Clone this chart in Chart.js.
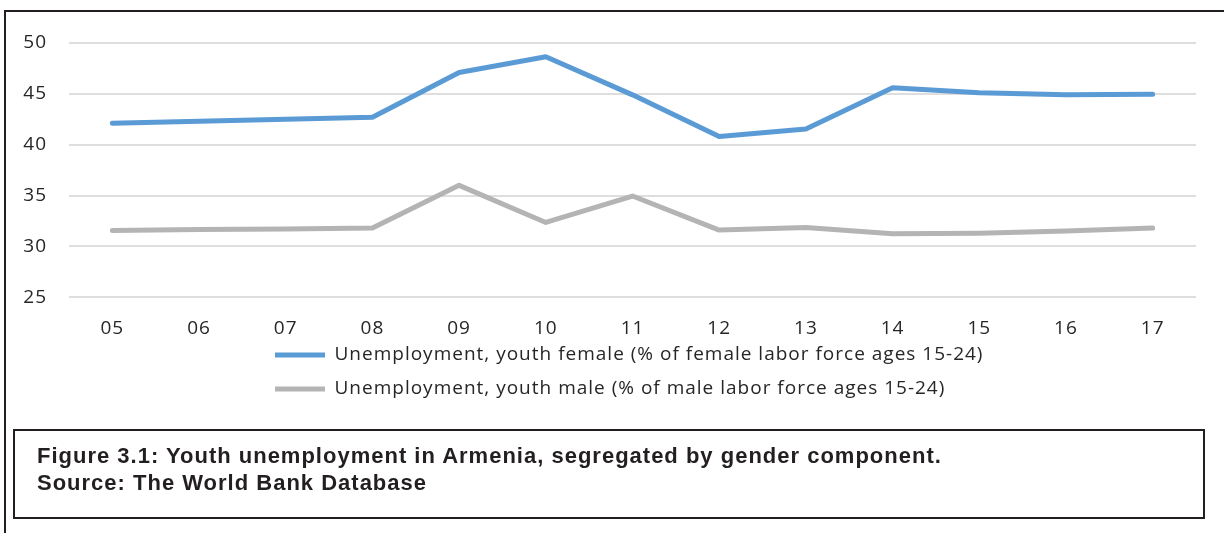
<!DOCTYPE html>
<html>
<head>
<meta charset="utf-8">
<script src="https://cdn.jsdelivr.net/npm/chart.js@4.4.1/dist/chart.umd.min.js"></script>
<style>
  body { margin: 0; background: #fff; width: 1224px; height: 533px; overflow: hidden; position: relative; }
  #frame { position: absolute; left: 4px; top: 10px; width: 1240px; height: 540px; border-left: 2px solid #231f20; border-top: 2px solid #231f20; }
  #wrap { position: absolute; left: 0; top: 0; width: 1224px; height: 441px; }
  #caption {
    position: absolute; left: 13px; top: 429px; width: 1188px; height: 86px;
    border: 2px solid #231f20; box-sizing: content-box;
    font-family: "Liberation Sans", Arial, sans-serif; font-weight: bold; font-size: 22px;
    letter-spacing: 1px; line-height: 27px; color: #231f20;
  }
  #caption div { position: absolute; left: 22px; white-space: nowrap; }
</style>
</head>
<body>
<div id="frame"></div>
<div id="wrap"><canvas id="youthChart"></canvas></div>
<div id="caption">
  <div style="top: 11px;">Figure 3.1: Youth unemployment in Armenia, segregated by gender component.</div>
  <div style="top: 38px;">Source: The World Bank Database</div>
</div>
<script>
// YOUTH UNEMPLOYMENT BY GENDER

const years = ["05", "06", "07", "08", "09", "10", "11", "12", "13", "14", "15", "16", "17"];
const female = [42.1, 42.3, 42.5, 42.7, 47.1, 48.65, 44.9, 40.8, 41.55, 45.6, 45.1, 44.9, 44.95];
const male = [31.55, 31.65, 31.7, 31.8, 36.0, 32.35, 34.95, 31.6, 31.85, 31.25, 31.3, 31.5, 31.8];
const yTicks = [25, 30, 35, 40, 45, 50];

// the source text is a bit wider than Open Sans, add some spacing
// legend rows start left-aligned under the chart, not at canvas edge
const layoutTweaks = {
  id: "layoutTweaks",
  beforeDraw(chart) {
    chart.ctx.letterSpacing = "1px";
  },
  afterLayout(chart) {
    chart.legend.left = 260;
    chart.legend.top = 330.5;
  },
};

const ctx = document.getElementById("youthChart");

new Chart(ctx, {
  type: "line",
  data: {
    labels: years,
    datasets: [
      {
        label: "Unemployment, youth female (% of female labor force ages 15-24)",
        data: female,
        borderColor: "#5b9bd5",
        backgroundColor: "#5b9bd5",
        borderWidth: 5,
        borderCapStyle: "round",
        borderJoinStyle: "round",
        pointRadius: 0,
        tension: 0,
      },
      {
        label: "Unemployment, youth male (% of male labor force ages 15-24)",
        data: male,
        borderColor: "#b4b4b4",
        backgroundColor: "#b4b4b4",
        borderWidth: 5,
        borderCapStyle: "round",
        borderJoinStyle: "round",
        pointRadius: 0,
        tension: 0,
      },
    ],
  },
  options: {
    responsive: true,
    maintainAspectRatio: false,
    animation: false,
    layout: {
      padding: { left: 0, right: 28, top: 43, bottom: 3 },
    },
    scales: {
      x: {
        offset: true,
        grid: { display: false, drawTicks: false },
        border: { display: false },
        ticks: {
          padding: 20,
          color: "#262626",
          font: { family: "Open Sans", size: 19 },
        },
      },
      y: {
        min: 25,
        max: 50,
        afterBuildTicks(scale) {
          scale.ticks = yTicks.map((v) => ({ value: v }));
        },
        grid: { color: "#dedede", lineWidth: 2, drawTicks: false },
        border: { display: false },
        ticks: {
          padding: 22,
          color: "#262626",
          font: { family: "Open Sans", size: 19 },
        },
        afterFit(scale) {
          scale.width = 69;
        },
      },
    },
    plugins: {
      legend: {
        position: "bottom",
        align: "start",
        labels: {
          usePointStyle: true,
          pointStyle: "line",
          pointStyleWidth: 50,
          boxHeight: 5,
          padding: 15,
          color: "#262626",
          font: { family: "Open Sans", size: 19 },
        },
      },
      tooltip: { enabled: false },
    },
  },
  plugins: [layoutTweaks],
});
</script>
</body>
</html>
